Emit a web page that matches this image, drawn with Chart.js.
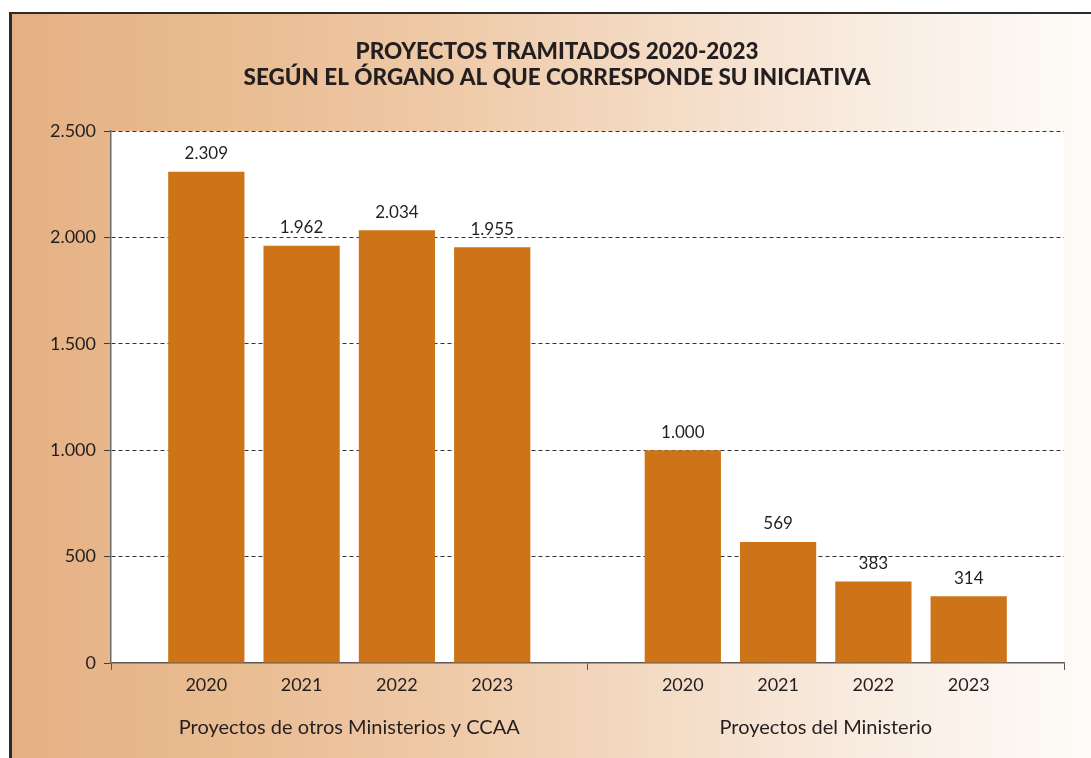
<!DOCTYPE html>
<html>
<head>
<meta charset="utf-8">
<script src="https://cdn.jsdelivr.net/npm/chart.js@4.4.1/dist/chart.umd.min.js"></script>
<style>
  html, body { margin: 0; padding: 0; background: #fff; overflow: hidden; }
  #frame {
    position: absolute; left: 9px; top: 12px; width: 1100px; height: 760px;
    border-top: 2px solid #2b2b2b; border-left: 3px solid #2b2b2b;
    background: linear-gradient(to right, #e5b184 0%, #e9bc92 20%, #efcaa8 40%, #f4dcc6 60%, #f9ece1 78%, #fcf7f2 92%, #fefcfa 100%);
  }
  #wrap { position: absolute; left: 0; top: 0; width: 1091px; height: 758px; }
</style>
</head>
<body>
<div id="frame"></div>
<div id="wrap"><canvas id="chart"></canvas></div>
<script>
const years = ["2020", "2021", "2022", "2023"];
const groups = ["Proyectos de otros Ministerios y CCAA", "Proyectos del Ministerio"];
const otrosValues = [2309, 1962, 2034, 1955];
const ministerioValues = [1000, 569, 383, 314];
const titleLines = ["PROYECTOS TRAMITADOS 2020-2023", "SEGÚN EL ÓRGANO AL QUE CORRESPONDE SU INICIATIVA"];

// empty slots at the group edges so bars sit between the group ticks
const labels = ["", ...years, "", ...years, ""];
const values = [null, ...otrosValues, null, ...ministerioValues, null];
const groupEdges = [0, 5, 10];

const fmt = (v) => Number(v).toLocaleString("de-DE");
const FONT = "Lato, 'Noto Sans', sans-serif";
const INK = "#231f20";

const plotBackground = {
  id: "plotBackground",
  beforeDraw(chart) {
    const { ctx, chartArea: a } = chart;
    ctx.save();
    ctx.fillStyle = "#ffffff";
    ctx.fillRect(a.left, a.top, a.right - a.left, a.bottom - a.top);
    ctx.restore();
  },
};

const valueLabels = {
  id: "valueLabels",
  afterDatasetsDraw(chart) {
    const { ctx } = chart;
    const meta = chart.getDatasetMeta(0);
    ctx.save();
    ctx.font = "17px " + FONT;
    ctx.fillStyle = INK;
    ctx.textAlign = "center";
    ctx.textBaseline = "middle";
    meta.data.forEach((bar, i) => {
      const v = values[i];
      if (v == null) return;
      ctx.fillText(fmt(v), bar.x, bar.y - 18);
    });
    ctx.restore();
  },
};

new Chart(document.getElementById("chart"), {
  type: "bar",
  data: {
    labels: labels,
    datasets: [
      {
        data: values,
        backgroundColor: "#cd7318",
        categoryPercentage: 1,
        barPercentage: 0.8,
      },
    ],
  },
  options: {
    responsive: true,
    maintainAspectRatio: false,
    animation: false,
    layout: { padding: { left: 50, right: 27, top: 0, bottom: 10 } },
    plugins: {
      legend: { display: false },
      tooltip: { enabled: false },
      title: {
        display: true,
        text: titleLines,
        color: INK,
        font: { family: FONT, size: 22.5, weight: "900", lineHeight: 1.16 },
        padding: { top: 39, bottom: 40 },
      },
    },
    scales: {
      x: {
        type: "category",
        offset: false,
        grid: {
          offset: false,
          drawOnChartArea: false,
          drawTicks: true,
          tickLength: 7,
          color: (c) => (groupEdges.includes(c.index) ? "#555" : "transparent"),
          tickColor: (c) => (groupEdges.includes(c.index) ? "#555" : "transparent"),
        },
        border: { display: true, color: "#5a5a5a", width: 1.5 },
        ticks: {
          color: INK,
          font: { family: FONT, size: 18 },
          padding: 4,
          maxRotation: 0,
          autoSkip: false,
        },
        afterFit: (s) => { s.height = 34; },
      },
      x2: {
        type: "category",
        position: "bottom",
        labels: groups,
        offset: true,
        grid: { display: false, drawTicks: false },
        border: { display: false },
        ticks: { color: INK, font: { family: FONT, size: 20 }, padding: 19, maxRotation: 0 },
        afterFit: (s) => { s.height = 51; },
      },
      y: {
        min: 0,
        max: 2500,
        ticks: {
          stepSize: 500,
          color: INK,
          font: { family: FONT, size: 18 },
          padding: 8,
          callback: (v) => fmt(v),
        },
        grid: {
          color: (c) => (c.tick && c.tick.value === 0 ? "transparent" : "#333333"),
          tickColor: "#3c3c3c",
          tickBorderDash: [],
          tickLength: 7,
          lineWidth: 1,
        },
        border: { display: true, color: "#6b6b6b", width: 1.5, dash: [4, 3] },
        afterFit: (s) => { s.width = 61; },
      },
    },
  },
  plugins: [plotBackground, valueLabels],
});
</script>
</body>
</html>
